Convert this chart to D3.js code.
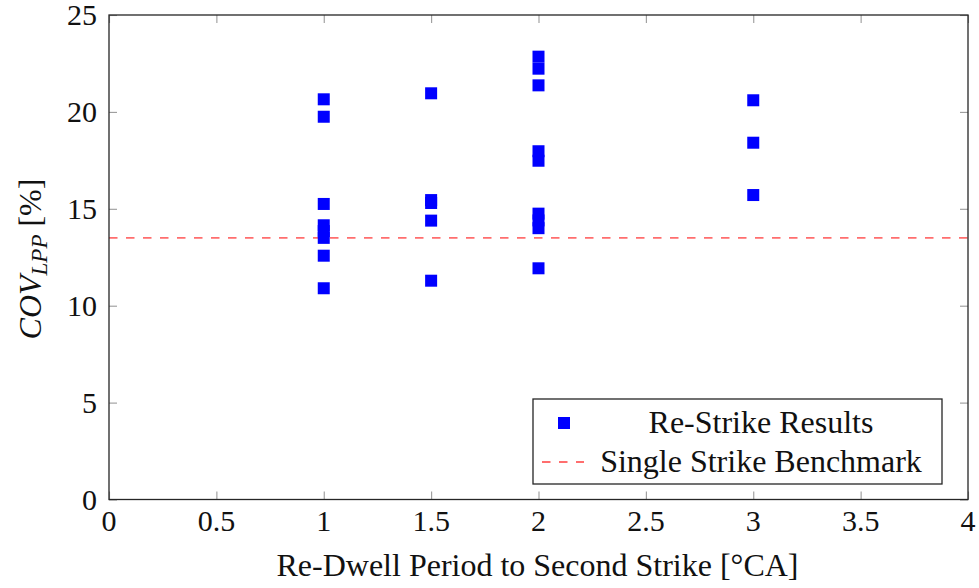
<!DOCTYPE html>
<html>
<head>
<meta charset="utf-8">
<script src="https://cdn.jsdelivr.net/npm/d3@7/dist/d3.min.js"></script>
<style>
  html, body { margin: 0; padding: 0; background: #fff; }
  svg { display: block; }
</style>
</head>
<body>
<svg id="chart" width="979" height="588"></svg>
<script>
// Re-dwell period to second strike [°CA] for each measured run
const dwell = [1, 1, 1, 1, 1, 1, 1, 1,
               1.5, 1.5, 1.5, 1.5, 1.5,
               2, 2, 2, 2, 2, 2, 2, 2, 2,
               3, 3, 3];
// Coefficient of variation of LPP [%] for each run
const cov = [20.65, 19.75, 15.25, 14.15, 13.85, 13.5, 12.58, 10.9,
             20.96, 15.45, 15.3, 14.39, 11.29,
             22.85, 22.23, 21.37, 17.97, 17.48, 14.75, 14.4, 14.0, 11.93,
             20.6, 18.41, 15.71];
// Single strike benchmark level [%]
const benchmark = [13.5];
// Axis ticks
const xTicks = [0, 0.5, 1, 1.5, 2, 2.5, 3, 3.5, 4];
const yTicks = [0, 5, 10, 15, 20, 25];
const legendLabels = ["Re-Strike Results", "Single Strike Benchmark"];

const svg = d3.select("#chart");
const serif = "Liberation Serif";
const plotL = 109, plotR = 968, plotT = 15, plotB = 499.5;
const tickFont = 30;
const titleFont = 32;

const x = d3.scaleLinear().domain([0, 4]).range([plotL, plotR]);
const y = d3.scaleLinear().domain([0, 25]).range([plotB, plotT]);

const tickLen = 8;
const tickColor = "#9a9a9a";

// tick marks on all four sides, pointing inward
const bottomAxis = d3.axisBottom(x).tickValues(xTicks).tickSize(-tickLen).tickFormat("");
const topAxis = d3.axisTop(x).tickValues(xTicks).tickSize(-tickLen).tickFormat("");
const leftAxis = d3.axisLeft(y).tickValues(yTicks).tickSize(-tickLen).tickFormat("");
const rightAxis = d3.axisRight(y).tickValues(yTicks).tickSize(-tickLen).tickFormat("");

function styleTicks(g) {
  g.select(".domain").remove();
  g.selectAll(".tick line").attr("stroke", tickColor).attr("stroke-width", 1.1);
}
svg.append("g").attr("transform", `translate(0,${plotB})`).call(bottomAxis).call(styleTicks);
svg.append("g").attr("transform", `translate(0,${plotT})`).call(topAxis).call(styleTicks);
svg.append("g").attr("transform", `translate(${plotL},0)`).call(leftAxis).call(styleTicks);
svg.append("g").attr("transform", `translate(${plotR},0)`).call(rightAxis).call(styleTicks);

// tick labels
svg.append("g").selectAll("text").data(xTicks).join("text")
  .attr("x", d => x(d))
  .attr("y", 531)
  .attr("text-anchor", "middle")
  .attr("font-family", serif)
  .attr("font-size", tickFont)
  .attr("fill", "#111")
  .text(d => d3.format("")(d));

svg.append("g").selectAll("text").data(yTicks).join("text")
  .attr("x", 97)
  .attr("y", d => y(d) + 10)
  .attr("text-anchor", "end")
  .attr("font-family", serif)
  .attr("font-size", tickFont)
  .attr("fill", "#111")
  .text(d => d);

// benchmark line
svg.append("line")
  .attr("x1", plotL).attr("x2", plotR)
  .attr("y1", y(benchmark[0])).attr("y2", y(benchmark[0]))
  .attr("stroke", "#ff6e6e")
  .attr("stroke-width", 1.8)
  .attr("stroke-dasharray", "8.5,8.5");

// re-strike result markers
const ms = 12;
svg.append("g").selectAll("rect").data(dwell.map((d, i) => [d, cov[i]])).join("rect")
  .attr("x", d => x(d[0]) - ms / 2)
  .attr("y", d => y(d[1]) - ms / 2)
  .attr("width", ms).attr("height", ms)
  .attr("fill", "#0000ff");

// plot frame
svg.append("rect")
  .attr("x", plotL).attr("y", plotT)
  .attr("width", plotR - plotL).attr("height", plotB - plotT)
  .attr("fill", "none")
  .attr("stroke", "#262626")
  .attr("stroke-width", 1.3);

// axis titles
svg.append("text")
  .attr("x", (plotL + plotR) / 2 - 1)
  .attr("y", 576)
  .attr("text-anchor", "middle")
  .attr("font-family", serif)
  .attr("font-size", titleFont)
  .attr("fill", "#111")
  .text("Re-Dwell Period to Second Strike [°CA]");

const yTitle = svg.append("text")
  .attr("transform", "translate(41,259) rotate(-90)")
  .attr("text-anchor", "middle")
  .attr("font-family", serif)
  .attr("font-size", titleFont)
  .attr("fill", "#111");
yTitle.append("tspan").attr("font-style", "italic").text("COV");
yTitle.append("tspan").attr("font-style", "italic").attr("font-size", 23).attr("dy", 6).text("LPP");
yTitle.append("tspan").attr("dy", -6).text(" [%]");

// legend
const lg = svg.append("g");
lg.append("rect")
  .attr("x", 533).attr("y", 399)
  .attr("width", 942 - 533).attr("height", 484 - 399)
  .attr("fill", "#fff")
  .attr("stroke", "#262626")
  .attr("stroke-width", 1.3);
lg.append("rect")
  .attr("x", 564 - ms / 2).attr("y", 423 - ms / 2)
  .attr("width", ms).attr("height", ms)
  .attr("fill", "#0000ff");
lg.append("line")
  .attr("x1", 542).attr("x2", 584)
  .attr("y1", 462).attr("y2", 462)
  .attr("stroke", "#ff6e6e")
  .attr("stroke-width", 1.8)
  .attr("stroke-dasharray", "8.5,8.5");
lg.selectAll("text.lab").data(legendLabels).join("text")
  .attr("class", "lab")
  .attr("x", 761)
  .attr("y", (d, i) => 433 + i * 38.5)
  .attr("text-anchor", "middle")
  .attr("font-family", serif)
  .attr("font-size", titleFont)
  .attr("fill", "#111")
  .text(d => d);
</script>
</body>
</html>
